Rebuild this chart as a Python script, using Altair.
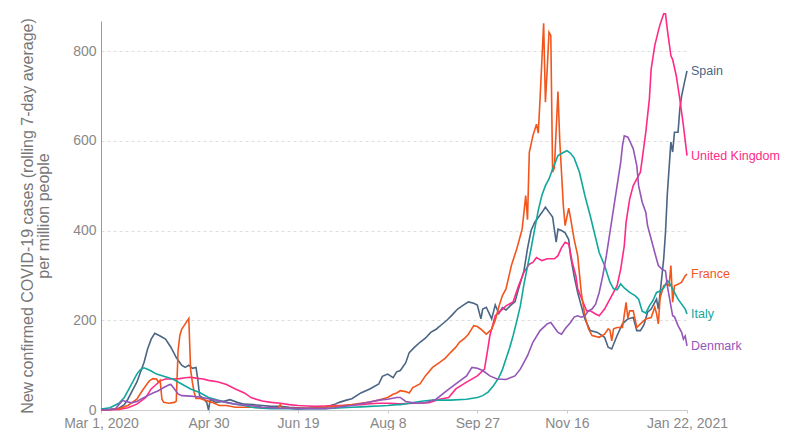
import altair as alt
import pandas as pd

START = "2020-03-01"

countries = ["Spain", "United Kingdom", "France", "Italy", "Denmark"]
colors = ["#4B6584", "#FF2A86", "#F2561D", "#12A79D", "#9456B8"]

# day offsets from Mar 1, 2020 and values (new cases per million, 7-day avg)
spain_days = [0,5,10,13,15,18,20,22,24,26,28,30,33,36,39,42,45,47,49,51,53,54,55,57,59,60,61,64,68,72,76,80,85,90,95,100,105,110,115,120,125,130,133,137,140,145,150,155,157,160,163,165,167,170,172,175,178,181,184,187,190,193,196,199,202,205,208,210,212,213,215,217,218,220,222,224,226,229,231,233,236,238,240,242,244,246,248,250,252,254,255,257,259,261,262,264,266,268,270,273,277,281,283,285,288,291,294,297,299,301,303,305,307,310,311,312,314,315,316,318,319,320,322,323,324,326,327]
spain_vals = [0,1,4,12,24,47,62,84,106,136,158,171,165,158,140,117,100,95,100,93,95,69,32,26,17,0,24,17,19,23,17,13,12,10,8,8,6,5,4,4,6,12,17,22,25,38,47,58,75,80,72,85,88,105,128,140,151,160,173,180,190,200,212,225,233,241,238,234,203,225,229,212,203,234,215,228,223,235,241,270,310,360,400,418,429,440,452,441,430,374,403,400,395,380,344,299,262,232,203,177,173,162,140,136,166,192,203,206,177,177,190,218,225,247,225,260,337,396,480,597,575,619,619,671,700,738,756]

uk_days = [0,10,15,20,25,28,30,33,36,40,44,47,50,53,57,60,65,70,75,80,84,90,95,100,105,110,115,120,125,130,135,140,145,150,155,160,167,175,183,189,194,198,204,210,214,216,217,220,223,226,230,233,236,239,241,243,246,249,251,253,255,257,259,261,263,265,266,269,271,273,276,278,279,281,283,286,288,290,292,293,295,297,299,301,302,304,306,307,309,311,312,314,315,316,318,319,321,323,325,327]
uk_vals = [0,1,5,13,28,47,54,65,69,69,70,72,73,71,69,66,63,57,47,38,27,20,17,15,12,10,9,8,9,10,10,11,12,14,15,15,14,15,16,24,28,47,62,76,91,140,166,210,221,232,241,277,307,325,329,340,333,337,337,337,344,362,374,370,329,299,270,240,221,221,214,210,215,225,240,262,277,314,366,418,470,500,515,530,559,619,693,760,812,845,860,883,883,849,790,781,745,693,634,567]

france_days = [0,5,10,15,20,23,25,27,29,31,32,33,34,35,38,41,42,43,44,45,47,48,49,50,51,52,53,55,58,62,66,70,75,80,85,90,95,99,100,101,105,110,115,120,125,130,135,140,145,150,155,160,163,165,167,170,172,174,178,181,185,189,192,195,198,200,203,205,208,210,212,215,218,220,222,224,226,229,232,235,236,237,238,239,241,243,244,245,247,248,249,250,251,252,253,255,256,258,259,261,262,264,266,268,270,272,274,278,281,283,284,285,286,288,291,293,294,295,297,299,301,304,307,309,310,311,312,314,316,317,318,319,320,322,324,326,327]
france_vals = [0,1,3,10,24,43,54,65,70,69,62,66,24,17,15,17,20,132,166,180,192,198,204,90,62,39,26,26,22,17,10,10,6,6,6,5,5,5,12,5,4,4,4,5,6,8,10,12,15,18,22,28,35,38,43,41,38,50,58,76,95,106,115,128,140,151,160,169,188,186,180,169,180,200,230,255,270,322,359,403,440,478,424,574,611,637,617,693,862,686,760,842,835,530,540,710,600,455,411,450,428,381,344,262,210,181,166,162,169,181,178,154,181,184,184,240,205,221,221,184,192,203,206,229,215,192,250,277,280,277,322,240,277,280,285,299,303]

italy_days = [0,5,10,13,16,18,20,22,24,26,28,31,35,40,45,50,55,60,65,70,75,80,84,90,95,100,105,110,115,120,125,130,135,140,145,150,155,160,165,167,172,176,180,185,195,204,210,213,216,219,222,224,226,228,230,232,234,236,238,240,242,244,246,248,250,252,255,258,260,262,264,267,270,273,275,278,281,284,286,288,290,292,295,298,300,302,304,306,308,310,312,314,316,317,318,320,322,324,326,327]
italy_vals = [2,5,15,28,50,65,80,90,94,91,87,80,75,69,58,47,39,28,22,17,13,10,6,4,3,3,3,2,3,3,3,4,5,6,7,8,9,10,12,12,15,18,20,22,22,24,28,32,40,54,72,90,114,138,166,198,232,280,320,360,403,445,478,500,515,537,567,574,578,572,562,530,478,433,400,351,322,285,270,268,281,272,262,255,247,220,216,232,244,262,265,272,288,285,277,262,247,236,225,214]

denmark_days = [0,8,10,12,14,17,20,23,26,29,32,35,38,39,41,43,45,50,55,60,65,70,75,80,84,90,95,100,105,110,115,120,125,130,135,140,145,150,155,160,165,167,170,176,181,187,193,198,204,207,210,213,217,221,226,231,234,238,241,245,249,251,253,255,257,259,262,264,266,268,270,272,274,276,278,280,282,284,286,288,290,291,292,294,295,297,299,300,302,304,305,307,309,311,313,315,316,318,319,320,322,324,325,326,327]
denmark_vals = [0,2,12,21,19,16,19,26,32,38,43,50,56,57,47,36,32,31,29,25,21,17,13,11,10,6,5,4,4,3,3,3,3,5,8,10,14,18,22,24,28,28,19,15,16,24,43,58,76,95,93,88,76,69,68,76,91,121,151,177,192,195,184,173,169,181,195,207,210,207,210,221,225,236,262,299,344,396,448,500,552,589,611,608,600,582,544,500,463,441,411,381,351,322,314,310,277,232,210,208,188,173,158,165,143]

series = {
    "Spain": (spain_days, spain_vals),
    "United Kingdom": (uk_days, uk_vals),
    "France": (france_days, france_vals),
    "Italy": (italy_days, italy_vals),
    "Denmark": (denmark_days, denmark_vals),
}

y_title = ["New confirmed COVID-19 cases (rolling 7-day average)", "per million people"]
x_ticks = [(2020, 3, 1), (2020, 4, 30), (2020, 6, 19), (2020, 8, 8),
           (2020, 9, 27), (2020, 11, 16), (2021, 1, 22)]
y_ticks = [0, 200, 400, 600, 800]

start = pd.Timestamp(START)
rows = []
for name, (days, vals) in series.items():
    for d, v in zip(days, vals):
        rows.append({"country": name,
                     "date": (start + pd.Timedelta(days=d)).strftime("%Y-%m-%d"),
                     "value": v})
df = pd.DataFrame(rows)
last = df.groupby("country", sort=False).tail(1).reset_index(drop=True)

FONT = "Liberation Sans"

xdt = [alt.DateTime(year=y, month=m, date=d, utc=True) for (y, m, d) in x_ticks]
x_scale = alt.Scale(type="utc", domain=[xdt[0], xdt[-1]])
y_scale = alt.Scale(domain=[0, 867], nice=False)
color_scale = alt.Scale(domain=countries, range=colors)

label_expr = ("utcFormat(datum.value, '%b %-d') + ((utcyear(datum.value) == 2021 || "
              "(utcmonth(datum.value) == 2 && utcdate(datum.value) == 1)) ? "
              "utcFormat(datum.value, ', %Y') : '')")

x_enc = alt.X("date:T", scale=x_scale,
              axis=alt.Axis(values=xdt, labelExpr=label_expr, grid=False,
                            domainColor="#cccccc", tickColor="#cccccc", tickSize=3,
                            labelFontSize=14, labelColor="#888888", labelPadding=3,
                            labelFlush=False, labelOverlap=False, title=None))
y_enc = alt.Y("value:Q", scale=y_scale,
              axis=alt.Axis(values=y_ticks, grid=True, gridDash=[3, 3],
                            gridColor="#dddddd", domain=True, domainColor="#9a9a9a",
                            ticks=False, labelFontSize=14, labelColor="#888888",
                            labelPadding=5, title=y_title, titleFontSize=16,
                            titleColor="#777777", titleFontWeight="normal",
                            titleLineHeight=16, titlePadding=21,
                            titleAlign="center", titleAnchor="middle"))

lines = alt.Chart(df).mark_line(strokeWidth=1.6, clip=False).encode(
    x=x_enc, y=y_enc,
    color=alt.Color("country:N", scale=color_scale, legend=None),
    detail="country:N",
)

labels = alt.Chart(last).mark_text(align="left", baseline="middle", dx=4,
                                   fontSize=12.5, font=FONT).encode(
    x=alt.X("date:T", scale=x_scale),
    y=alt.Y("value:Q", scale=y_scale),
    text="country:N",
    color=alt.Color("country:N", scale=color_scale, legend=None),
)

chart = (lines + labels).properties(
    width=586, height=389,
    padding={"left": 93, "top": 13, "right": 95, "bottom": 20},
    autosize=alt.AutoSizeParams(type="none"),
).configure(font=FONT).configure_view(stroke=None)

chart.save("out.html", embed_options={"renderer": "svg", "actions": False})
